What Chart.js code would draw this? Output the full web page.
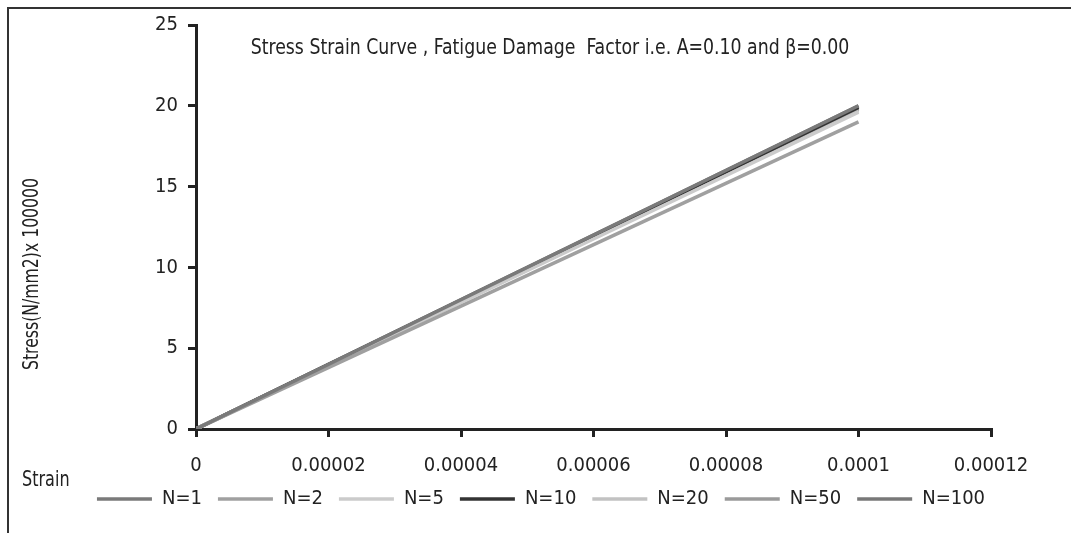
<!DOCTYPE html>
<html>
<head>
<meta charset="utf-8">
<script src="https://cdn.jsdelivr.net/npm/chart.js@4"></script>
<style>
  html, body { margin: 0; padding: 0; background: #fff; }
  #wrap { position: relative; width: 1071px; height: 533px; overflow: hidden; }
  #frame { position: absolute; left: 7px; top: 7px; width: 1100px; height: 600px; border-left: 2px solid #333; border-top: 2px solid #333; pointer-events: none; }
  canvas { position: absolute; left: 0; top: 0; }
</style>
</head>
<body>
<div id="wrap">
  <canvas id="c" width="1071" height="533"></canvas>
  <div id="frame"></div>
</div>
<script>
// ---- data ----
const strain = [0, 0.0001];
const seriesNames = ['N=1', 'N=2', 'N=5', 'N=10', 'N=20', 'N=50', 'N=100'];
const stressN1   = [0, 20.0];
const stressN2   = [0, 19.0];
const stressN5   = [0, 19.6];
const stressN10  = [0, 19.9];
const stressN20  = [0, 19.7];
const stressN50  = [0, 19.8];
const stressN100 = [0, 20.0];
const xTicks = [0, 0.00002, 0.00004, 0.00006, 0.00008, 0.0001, 0.00012];
const yTicks = [0, 5, 10, 15, 20, 25];
const chartTitle = 'Stress Strain Curve , Fatigue Damage  Factor i.e. A=0.10 and \u03B2=0.00';
const yTitle = 'Stress(N/mm2)x 100000';
const xTitle = 'Strain';

const seriesValues = [stressN1, stressN2, stressN5, stressN10, stressN20, stressN50, stressN100];
const colors = ['#7a7a7a', '#a0a0a0', '#cbcbcb', '#333333', '#c2c2c2', '#9a9a9a', '#787878'];

const FONT = '"Liberation Sans Narrow", "DejaVu Sans Condensed", "Arial Narrow", sans-serif';

const datasets = seriesNames.map((name, i) => ({
  label: name,
  data: strain.map((s, j) => ({ x: s, y: seriesValues[i][j] })),
  borderColor: colors[i],
  backgroundColor: colors[i],
  borderWidth: 3.5,
  pointRadius: 0,
  tension: 0,
  pointStyle: 'line'
}));

function condensedText(ctx, text, x, y, sx, align) {
  ctx.save();
  ctx.translate(x, y);
  ctx.scale(sx, 1);
  ctx.textAlign = align;
  ctx.fillText(text, 0, 0);
  ctx.restore();
}

const textPlugin = {
  id: 'texts',
  afterDraw(chart) {
    const ctx = chart.ctx;
    ctx.save();
    ctx.fillStyle = '#222';
    ctx.textBaseline = 'middle';
    ctx.font = '22px ' + FONT;
    condensedText(ctx, chartTitle, 550, 48, 0.875, 'center');
    ctx.font = '21px ' + FONT;
    condensedText(ctx, xTitle, 22, 481, 0.85, 'left');
    ctx.translate(33, 274);
    ctx.rotate(-Math.PI / 2);
    condensedText(ctx, yTitle, 0, 0, 0.83, 'center');
    ctx.restore();
  }
};

new Chart(document.getElementById('c'), {
  type: 'line',
  data: { datasets },
  plugins: [textPlugin],
  options: {
    responsive: false,
    animation: false,
    layout: { padding: { left: 11, right: 0, top: 25, bottom: 14 } },
    plugins: {
      title: { display: false },
      tooltip: { enabled: false },
      legend: {
        position: 'bottom',
        labels: {
          usePointStyle: true,
          pointStyleWidth: 55,
          boxHeight: 20,
          padding: 16,
          color: '#222',
          font: { family: FONT, size: 20 }
        }
      }
    },
    scales: {
      x: {
        type: 'linear',
        min: xTicks[0],
        max: xTicks[xTicks.length - 1],
        afterBuildTicks(scale) { scale.ticks = xTicks.map(v => ({ value: v })); },
        afterFit(scale) { scale.height = 44; },
        border: { display: true, color: '#222', width: 3 },
        grid: { display: true, drawOnChartArea: false, drawTicks: true, tickLength: 8, color: '#222', lineWidth: 3 },
        ticks: {
          color: '#222',
          padding: 17,
          maxRotation: 0,
          font: { family: FONT, size: 20 },
          callback: v => parseFloat(Number(v).toFixed(6)).toString()
        }
      },
      y: {
        type: 'linear',
        min: yTicks[0],
        max: yTicks[yTicks.length - 1],
        afterBuildTicks(scale) { scale.ticks = yTicks.map(v => ({ value: v })); },
        afterFit(scale) { scale.width = 185; },
        border: { display: true, color: '#222', width: 3 },
        grid: { display: true, drawOnChartArea: false, drawTicks: true, tickLength: 8, color: '#222', lineWidth: 3 },
        ticks: {
          color: '#222',
          padding: 10,
          font: { family: FONT, size: 20 }
        }
      },
      yRightSpace: {
        type: 'linear',
        position: 'right',
        display: true,
        afterFit(scale) { scale.width = 80; },
        border: { display: false },
        grid: { display: false },
        ticks: { display: false }
      }
    }
  }
});
</script>
</body>
</html>
